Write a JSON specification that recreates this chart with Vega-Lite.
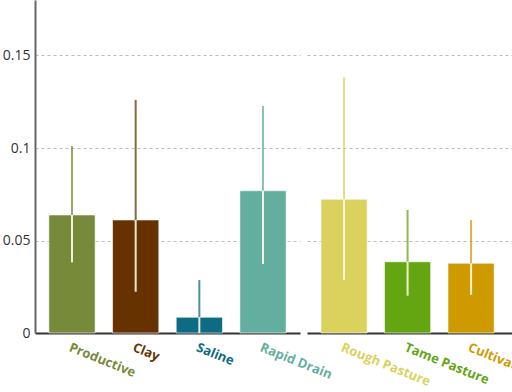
{
  "$schema": "https://vega.github.io/schema/vega-lite/v6.json",
  "padding": {"left": 2, "top": 0, "right": 0, "bottom": 0},
  "spacing": 7,
  "bounds": "flush",
  "config": {
    "view": {"stroke": null},
    "font": "Open Sans",
    "axis": {"labelFont": "Open Sans"}
  },
  "datasets": {
    "soil": [
      {"cat": "Productive", "value": 0.0638, "lower": 0.0382, "upper": 0.101, "color": "#778a3a"},
      {"cat": "Clay", "value": 0.0611, "lower": 0.0223, "upper": 0.126, "color": "#663300"},
      {"cat": "Saline", "value": 0.0085, "lower": 0.0, "upper": 0.0286, "color": "#0d6b84"},
      {"cat": "Rapid Drain", "value": 0.0769, "lower": 0.0373, "upper": 0.1227, "color": "#64ae9f"}
    ],
    "land": [
      {"cat": "Rough Pasture", "value": 0.0723, "lower": 0.0286, "upper": 0.1382, "color": "#dad25c"},
      {"cat": "Tame Pasture", "value": 0.0385, "lower": 0.0202, "upper": 0.0665, "color": "#64a612"},
      {"cat": "Cultivated", "value": 0.0377, "lower": 0.0207, "upper": 0.0611, "color": "#cf9a00"}
    ]
  },
  "hconcat": [
    {
      "width": 265,
      "height": 333,
      "data": {"name": "soil"},
      "encoding": {
        "x": {
          "field": "cat", "type": "nominal", "sort": null, "title": null,
          "scale": {"paddingInner": 0.273, "paddingOuter": 0.2175},
          "axis": {
            "labelAngle": 22, "ticks": false, "labelPadding": 8, "labelFontSize": 13, "labelFontWeight": "bold",
            "domainColor": "#333333", "domainWidth": 2, "grid": false,
            "labelColor": {"expr": "datum.value == 'Productive' ? '#778a3a' : datum.value == 'Clay' ? '#663300' : datum.value == 'Saline' ? '#0d6b84' : '#64ae9f'"}
          }
        }
      },
      "layer": [
        {
          "mark": {"type": "bar", "stroke": "#ffffff", "strokeWidth": 1, "strokeOpacity": 0.6},
          "encoding": {
            "y": {
              "field": "value", "type": "quantitative", "title": null,
              "scale": {"domain": [0, 0.18], "nice": false},
              "axis": {
                "values": [0, 0.05, 0.1, 0.15], "format": "~g", "ticks": false, "labelPadding": 5,
                "labelFontSize": 14, "labelColor": "#333333",
                "domainColor": "#666666", "domainWidth": 2,
                "grid": true, "gridColor": "#bbbbbb", "gridDash": [3, 3], "gridWidth": 1,
                "gridOpacity": {"expr": "datum.value == 0 ? 0 : 1"}
              }
            },
            "color": {"field": "color", "type": "nominal", "scale": null}
          }
        },
        {
          "mark": {"type": "rule", "strokeWidth": 2, "opacity": 0.75},
          "encoding": {
            "y": {"field": "value", "type": "quantitative"},
            "y2": {"field": "upper"},
            "color": {"field": "color", "type": "nominal", "scale": null}
          }
        },
        {
          "mark": {"type": "rule", "strokeWidth": 2, "color": "#fffbe8", "opacity": 0.9},
          "encoding": {
            "y": {"field": "lower", "type": "quantitative"},
            "y2": {"field": "value"}
          }
        }
      ]
    },
    {
      "width": 210,
      "height": 333,
      "data": {"name": "land"},
      "encoding": {
        "x": {
          "field": "cat", "type": "nominal", "sort": null, "title": null,
          "scale": {"paddingInner": 0.273, "paddingOuter": 0.29, "align": 0.38},
          "axis": {
            "labelAngle": 22, "ticks": false, "labelPadding": 8, "labelFontSize": 13, "labelFontWeight": "bold",
            "domainColor": "#333333", "domainWidth": 2, "grid": false,
            "labelColor": {"expr": "datum.value == 'Rough Pasture' ? '#dad25c' : datum.value == 'Tame Pasture' ? '#64a612' : '#cf9a00'"}
          }
        }
      },
      "layer": [
        {
          "mark": {"type": "bar", "stroke": "#ffffff", "strokeWidth": 1, "strokeOpacity": 0.6},
          "encoding": {
            "y": {
              "field": "value", "type": "quantitative", "title": null,
              "scale": {"domain": [0, 0.18], "nice": false},
              "axis": {
                "values": [0, 0.05, 0.1, 0.15], "labels": false, "ticks": false, "domain": false,
                "grid": true, "gridColor": "#bbbbbb", "gridDash": [3, 3], "gridWidth": 1,
                "gridOpacity": {"expr": "datum.value == 0 ? 0 : 1"}
              }
            },
            "color": {"field": "color", "type": "nominal", "scale": null}
          }
        },
        {
          "mark": {"type": "rule", "strokeWidth": 2, "opacity": 0.75},
          "encoding": {
            "y": {"field": "value", "type": "quantitative"},
            "y2": {"field": "upper"},
            "color": {"field": "color", "type": "nominal", "scale": null}
          }
        },
        {
          "mark": {"type": "rule", "strokeWidth": 2, "color": "#fffbe8", "opacity": 0.9},
          "encoding": {
            "y": {"field": "lower", "type": "quantitative"},
            "y2": {"field": "value"}
          }
        }
      ]
    }
  ]
}
